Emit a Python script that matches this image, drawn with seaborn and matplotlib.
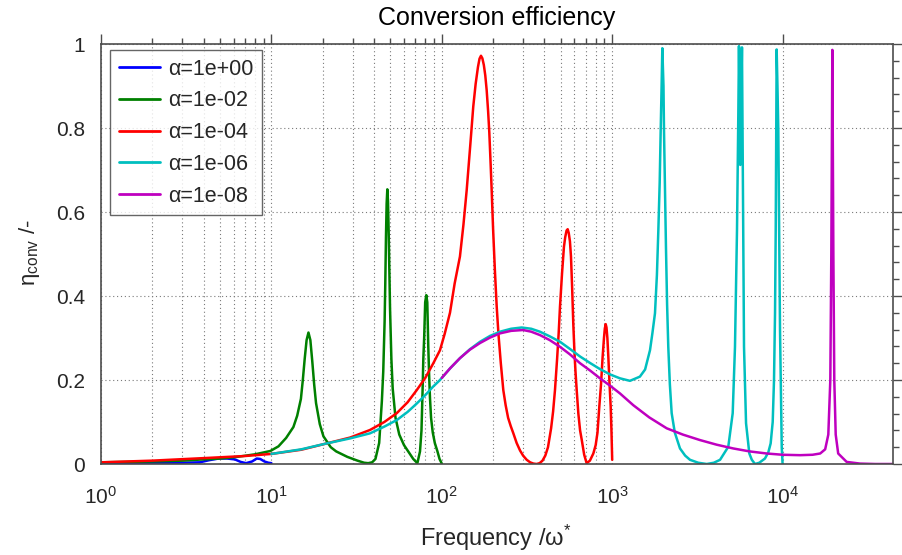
import numpy as np
import pandas as pd
import matplotlib
matplotlib.use('Agg')
import matplotlib.pyplot as plt
import seaborn as sns
from matplotlib.ticker import FixedLocator, LogFormatterMathtext, NullFormatter, FixedFormatter

# ---------------- data ----------------
freq_a1 = [1, 2, 3, 3.8, 4.3, 4.9, 5.5, 6.1, 6.6, 7.1, 7.7, 8.2, 8.6, 9.1, 9.6, 10]
eta_a1 = [0.003, 0.003, 0.003, 0.004, 0.009, 0.013, 0.013, 0.011, 0.005, 0.002,
          0.006, 0.013, 0.012, 0.006, 0.003, 0.002]

freq_a2 = [1, 2, 3, 4, 5, 6.3, 8, 9.86, 11, 12.2, 13.46, 14.17, 14.9, 15.29, 15.68,
           16.09, 16.5, 16.93, 17.37, 17.82, 18.28, 19.23, 20.2, 22.3, 24, 27.9, 32, 35,
           37, 39, 40.8, 42.9, 44.5, 45.33, 46.18, 46.6, 47.03, 47.46, 47.9, 48.34, 48.79,
           49.24, 49.69, 50.6, 51.5, 53.5, 56.3, 60, 64, 68, 71.9, 74.5, 76, 77.2, 77.9,
           78.8, 79.9, 81.1, 82.2, 83.3, 84.3, 85.3, 86.5, 88.5, 91, 94.3, 97, 100]
eta_a2 = [0.004, 0.006, 0.008, 0.011, 0.013, 0.017, 0.023, 0.031, 0.042, 0.062, 0.088,
          0.115, 0.155, 0.2, 0.25, 0.295, 0.313, 0.295, 0.245, 0.19, 0.145, 0.095, 0.066,
          0.04, 0.03, 0.017, 0.008, 0.003, 0.002, 0.004, 0.012, 0.05, 0.15, 0.22, 0.34,
          0.43, 0.54, 0.62, 0.654, 0.625, 0.55, 0.46, 0.37, 0.25, 0.18, 0.11, 0.07, 0.045,
          0.028, 0.012, 0.002, 0.03, 0.08, 0.18, 0.25, 0.3, 0.385, 0.402, 0.385, 0.28,
          0.21, 0.155, 0.11, 0.075, 0.05, 0.03, 0.012, 0.001]

freq_a4 = [1, 2, 4, 7, 10, 15, 21.1, 29, 37.9, 46, 54.4, 63, 71.3, 80, 89.2, 97.6, 104,
           111.7, 119, 127.8, 134, 140, 147, 153, 158, 163, 166.5, 169.8, 173, 176.5,
           180, 183.4, 187, 190, 193, 196.2, 200, 205, 210, 215, 222, 229.6, 237, 245,
           254, 263, 275, 288, 300, 315, 330, 345, 360, 375, 390, 405, 420, 438, 450,
           461.6, 475, 485, 494, 508, 521, 530, 540, 548, 556, 565, 573, 582, 591, 600,
           609, 619, 633, 648, 663, 685, 708, 740, 775, 800, 820, 840, 860, 879, 895, 905,
           916, 926, 937, 949, 965, 980, 990, 1000]
eta_a4 = [0.004, 0.008, 0.014, 0.019, 0.024, 0.034, 0.049, 0.063, 0.081, 0.1, 0.121,
          0.147, 0.176, 0.205, 0.24, 0.271, 0.31, 0.36, 0.43, 0.494, 0.57, 0.652, 0.76,
          0.851, 0.905, 0.945, 0.965, 0.972, 0.966, 0.95, 0.925, 0.89, 0.84, 0.79, 0.725,
          0.652, 0.56, 0.46, 0.375, 0.31, 0.24, 0.176, 0.14, 0.11, 0.09, 0.073, 0.05,
          0.032, 0.02, 0.01, 0.004, 0.001, 0.0, 0.002, 0.008, 0.02, 0.04, 0.085, 0.125,
          0.176, 0.25, 0.31, 0.375, 0.455, 0.517, 0.54, 0.556, 0.559, 0.55, 0.53, 0.494,
          0.42, 0.335, 0.27, 0.22, 0.176, 0.12, 0.08, 0.057, 0.022, 0.002, 0.008, 0.025,
          0.045, 0.075, 0.136, 0.19, 0.256, 0.3, 0.322, 0.333, 0.325, 0.3, 0.256, 0.19,
          0.136, 0.08, 0.01]

freq_a6 = [10, 15, 21.1, 29, 37.9, 46, 54.6, 63, 71.3, 80, 88.8, 97.6, 112, 127.8, 146,
           167.6, 192, 219.6, 255, 294, 335, 376.7, 430, 494, 565, 647.5, 745, 848, 975,
           1111, 1271, 1454, 1560, 1667, 1720, 1783, 1830, 1866, 1900, 1926, 1950, 1969,
           2000, 2014, 2068, 2100, 2134, 2180, 2234, 2330, 2500, 2680, 2862, 3200, 3588,
           3950, 4296, 4801, 5096, 5256, 5401, 5499, 5546, 5646, 5777, 5857, 5938, 6103,
           6381, 6600, 6891, 7300, 7880, 8250, 8511, 8750, 8906, 9030, 9114, 9180, 9230,
           9330, 9437, 9550, 9660, 9886, 10000]
eta_a6 = [0.024, 0.035, 0.049, 0.061, 0.073, 0.089, 0.105, 0.124, 0.144, 0.164, 0.184,
          0.2, 0.228, 0.252, 0.273, 0.291, 0.305, 0.315, 0.322, 0.325, 0.322, 0.315,
          0.304, 0.291, 0.274, 0.256, 0.24, 0.226, 0.213, 0.204, 0.198, 0.208, 0.225,
          0.271, 0.31, 0.359, 0.45, 0.557, 0.67, 0.795, 0.9, 0.99, 0.9, 0.795, 0.517,
          0.38, 0.279, 0.19, 0.121, 0.075, 0.037, 0.02, 0.01, 0.003, 0.0, 0.003, 0.01,
          0.041, 0.121, 0.279, 0.557, 0.835, 0.995, 0.712, 0.992, 0.636, 0.279, 0.097,
          0.025, 0.01, 0.0, 0.003, 0.013, 0.028, 0.049, 0.1, 0.2, 0.36, 0.557, 0.8, 0.987,
          0.9, 0.795, 0.55, 0.319, 0.04, 0.0]

freq_a8 = [100, 112, 127.8, 146, 167.6, 192, 219.6, 255, 300, 335, 376.7, 430, 494, 565,
           647.5, 745, 848, 975, 1111, 1330, 1650, 2089, 2600, 3275, 4100, 5138, 6400,
           8072, 10000, 12680, 15000, 16620, 17780, 18550, 19060, 19320, 19590, 19860,
           20110, 20500, 21200, 23770, 28450, 35000, 44460]
eta_a8 = [0.205, 0.228, 0.252, 0.272, 0.288, 0.301, 0.311, 0.317, 0.319, 0.315, 0.307,
          0.295, 0.279, 0.261, 0.24, 0.222, 0.204, 0.186, 0.168, 0.14, 0.111, 0.085,
          0.07, 0.057, 0.046, 0.037, 0.03, 0.025, 0.022, 0.021, 0.022, 0.025, 0.035,
          0.07, 0.2, 0.5, 0.986, 0.5, 0.2, 0.07, 0.025, 0.005, 0.001, 0.0, 0.0]

series_labels = ['α=1e+00', 'α=1e-02', 'α=1e-04', 'α=1e-06', 'α=1e-08']
series_colors = ['#0000ff', '#008000', '#ff0000', '#00bfbf', '#bf00bf']

y_ticks = [0, 0.2, 0.4, 0.6, 0.8, 1.0]
y_tick_labels = ['0', '0.2', '0.4', '0.6', '0.8', '1']
x_ticks = [1, 10, 100, 1000, 10000]

# ---------------- style ----------------
sns.set_style('white')
plt.rcParams['font.family'] = ['Liberation Sans', 'DejaVu Sans']
plt.rcParams['mathtext.fontset'] = 'custom'
plt.rcParams['mathtext.rm'] = 'Liberation Sans'
plt.rcParams['mathtext.it'] = 'Liberation Sans:italic'
plt.rcParams['mathtext.default'] = 'regular'

fig = plt.figure(figsize=(9.02, 5.55), dpi=100)
ax = fig.add_axes([101 / 902, 1 - 464 / 555, 792 / 902, 420 / 555])

all_f = [freq_a1, freq_a2, freq_a4, freq_a6, freq_a8]
all_e = [eta_a1, eta_a2, eta_a4, eta_a6, eta_a8]
for f, e, lab, c in zip(all_f, all_e, series_labels, series_colors):
    df = pd.DataFrame({'f': f, 'eta': e})
    sns.lineplot(data=df, x='f', y='eta', ax=ax, color=c, label=lab, lw=1.8,
                 sort=False, estimator=None)

ax.set_xscale('log')
ax.set_xlim(1, 10 ** 4.648)
ax.set_ylim(0, 1)
ax.set_xlabel('')
ax.set_ylabel('')

ax.xaxis.set_major_locator(FixedLocator(x_ticks))
ax.xaxis.set_major_formatter(LogFormatterMathtext())
minor_x = [k * 10 ** d for d in range(0, 3) for k in range(2, 10)]
ax.xaxis.set_minor_locator(FixedLocator(minor_x))
ax.xaxis.set_minor_formatter(NullFormatter())
ax.yaxis.set_major_locator(FixedLocator(y_ticks))
ax.yaxis.set_major_formatter(FixedFormatter(y_tick_labels))
ax.yaxis.set_minor_locator(FixedLocator(list(np.arange(0, 1.0001, 0.04))))

spine_col = '#4d4d4d'
for s in ax.spines.values():
    s.set_color(spine_col)
    s.set_linewidth(1.2)
    s.set_visible(True)
    s.set_zorder(5)

ax.tick_params(which='both', direction='out', top=True, right=True,
               labeltop=False, labelright=False, colors=spine_col,
               labelcolor='#262626', labelsize=15, width=1.0)
ax.tick_params(which='major', length=7.5)
ax.tick_params(which='minor', length=4)
ax.tick_params(axis='x', which='major', pad=8)
ax.tick_params(axis='y', which='major', pad=4)

grid_kw = dict(ls=(0, (1, 2.5)), color='#7a7a7a', lw=0.8)
ax.grid(True, which='major', axis='both', **grid_kw)
ax.grid(True, which='minor', axis='x', **grid_kw)
ax.grid(False, which='minor', axis='y')
ax.set_axisbelow(True)

leg = ax.legend(loc='upper left', bbox_to_anchor=(0.0114, 0.9857), borderaxespad=0,
                frameon=True, fancybox=False, edgecolor='#404040', fontsize=15.5,
                handlelength=1.9, handletextpad=0.4, labelspacing=0.5, borderpad=0.4)
leg.get_frame().set_linewidth(1.0)
for line in leg.get_lines():
    line.set_linewidth(2.0)

fig.text(497 / 902, 1 - 25 / 555, 'Conversion efficiency', ha='center', va='baseline',
         fontsize=18, color='black')
fig.text(496 / 902, 1 - 546 / 555, r'Frequency /$\mathregular{\omega^{*}}$', ha='center',
         va='baseline', fontsize=17, color='#262626')
fig.text(30 / 902, 1 - 253 / 555, r'$\mathregular{\eta_{conv}}$ /-', ha='center',
         va='center', rotation=90, fontsize=16, color='#262626')

fig.savefig('out.png', dpi=100)
